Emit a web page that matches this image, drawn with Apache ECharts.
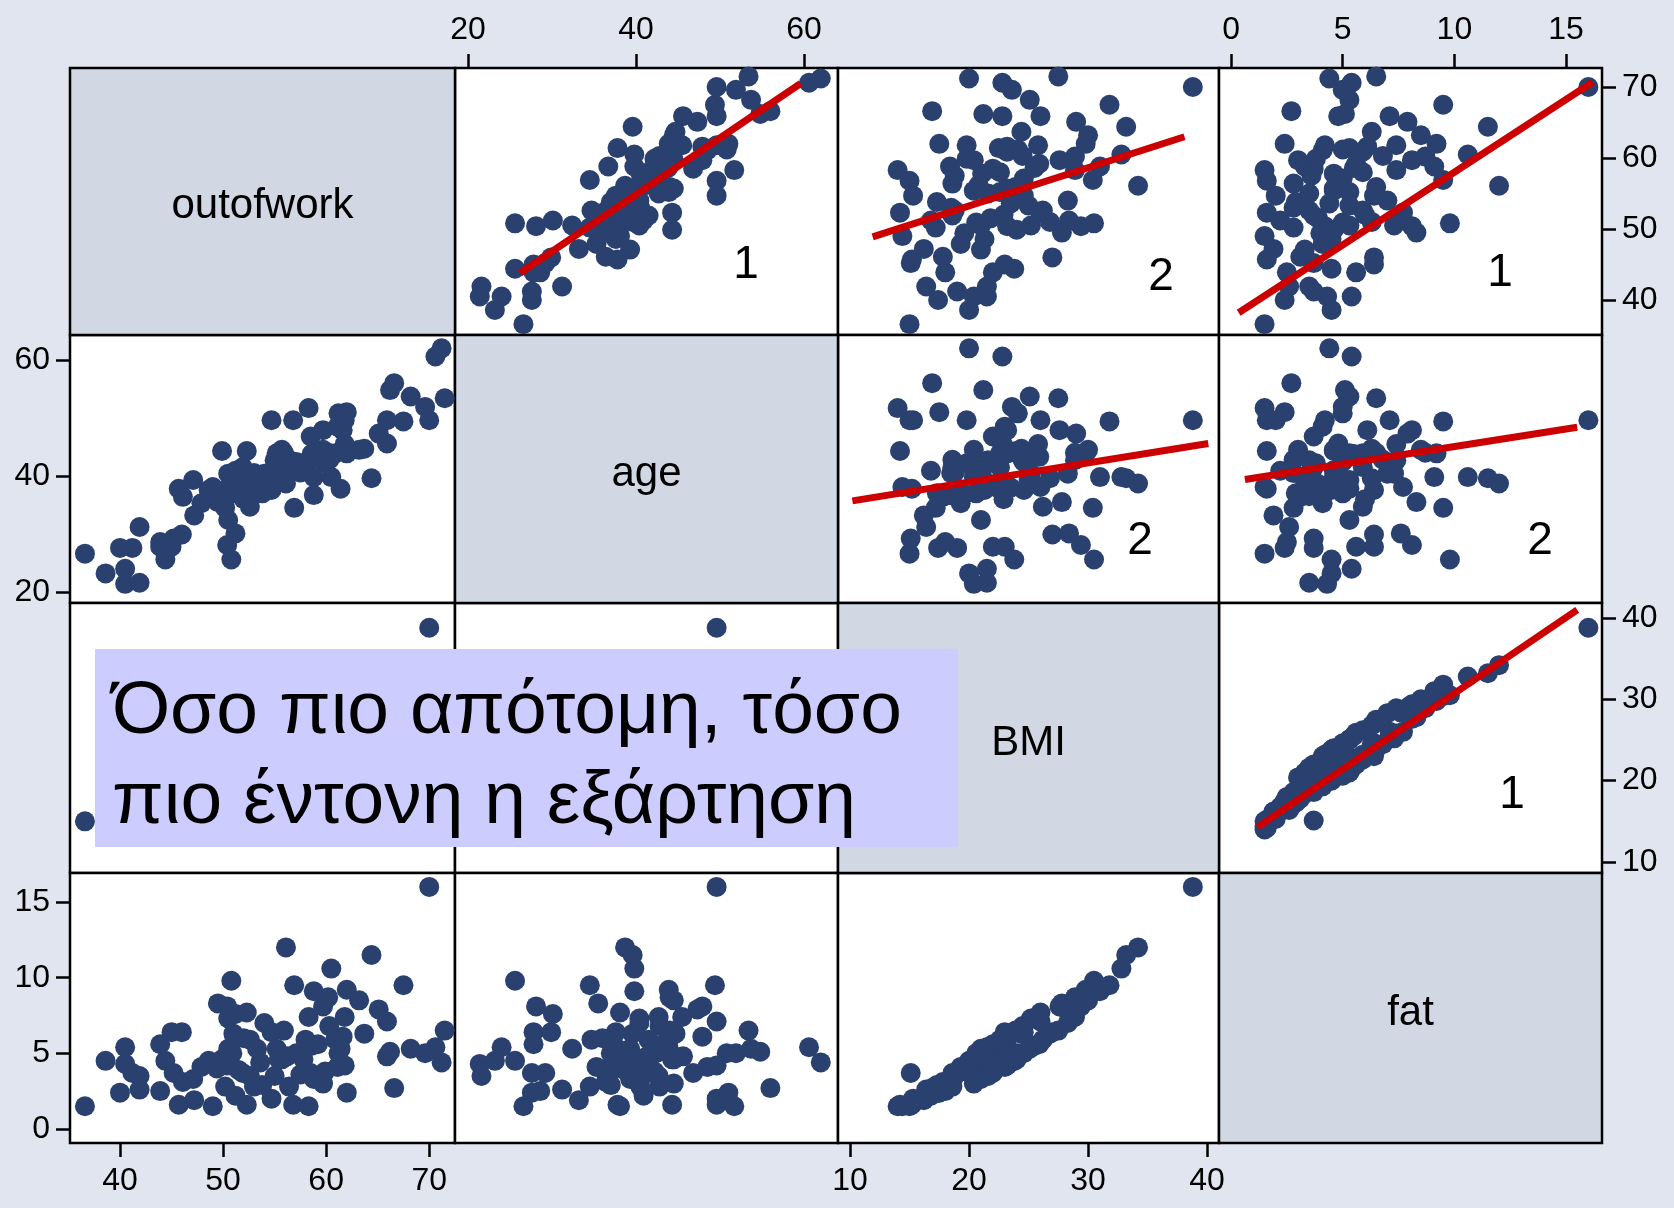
<!DOCTYPE html>
<html>
<head>
<meta charset="utf-8">
<script src="https://cdn.jsdelivr.net/npm/echarts@6/dist/echarts.min.js"></script>
<style>
  html, body { margin: 0; padding: 0; background: #e0e5ef; }
  #main { width: 1674px; height: 1208px; }
</style>
</head>
<body>
<div id="main"></div>
<script>
// one entry per person, same order in every list
var outofwork = [36.6, 38.6, 40.0, 40.5, 40.5, 41.2, 41.9, 41.9, 43.9, 43.9, 44.4, 45.0, 45.2, 45.7, 46.0, 46.1,
  47.1, 47.2, 47.9, 48.6, 49.0, 49.5, 49.9, 50.2, 50.4, 50.4, 50.5, 50.5, 50.8, 50.9, 51.0, 51.2, 51.2, 51.9,
  52.3, 52.3, 52.6, 52.6, 53.0, 53.3, 53.8, 54.0, 54.7, 54.7, 55.0, 55.2, 55.4, 55.7, 55.9, 56.1, 56.4, 56.8,
  56.9, 57.1, 57.8, 58.0, 58.3, 58.3, 58.5, 58.8, 58.8, 59.2, 59.7, 59.7, 59.9, 60.2, 60.5, 60.9, 61.1, 61.2,
  61.4, 61.6, 61.8, 61.8, 62.0, 62.0, 63.2, 63.7, 64.4, 65.1, 65.9, 66.2, 66.6, 67.5, 68.2, 69.6, 70.0, 70.6,
  71.2, 71.5, 65.9, 49.4, 51.5, 53.6, 56.2, 57.5, 58.6, 60.3, 52.0];
var age = [26.6, 23.2, 27.6, 24.0, 21.4, 27.6, 21.6, 31.2, 28.6, 27.8, 25.6, 27.8, 29.2, 37.8, 29.9, 36.4,
  39.3, 33.2, 35.3, 37.6, 38.1, 35.5, 44.3, 34.5, 28.1, 37.8, 40.4, 32.4, 25.6, 37.0, 39.6, 30.1, 40.9, 41.5,
  38.1, 44.3, 34.7, 36.5, 40.5, 39.3, 37.0, 40.4, 37.6, 49.6, 42.7, 43.9, 39.8, 44.5, 44.0, 38.7, 42.8, 49.6,
  34.5, 42.4, 41.0, 41.5, 42.7, 51.7, 46.8, 39.8, 36.7, 43.3, 47.9, 44.5, 42.2, 44.0, 39.8, 43.9, 48.5, 50.8,
  37.8, 47.9, 49.6, 45.5, 43.9, 51.0, 44.5, 44.7, 39.6, 47.3, 49.6, 54.8, 56.0, 49.4, 53.7, 51.9, 49.6, 60.6,
  62.0, 53.4, 45.6, 36.8, 38.6, 38.0, 41.3, 40.6, 43.8, 42.8, 36.0];
var fat = [1.5, 4.5, 2.4, 5.4, 4.3, 3.7, 3.5, 2.6, 2.5, 5.6, 4.5, 6.4, 3.7, 1.6, 6.4, 3.1,
  3.3, 1.9, 4.1, 4.5, 1.5, 8.3, 4.6, 2.8, 8.1, 4.2, 7.3, 5.3, 9.8, 5.0, 6.3, 7.6, 2.2, 3.7,
  7.7, 1.6, 5.9, 3.5, 2.8, 5.3, 2.9, 7.0, 6.4, 2.0, 3.5, 5.3, 4.6, 4.6, 6.5, 12.0, 2.8, 1.6,
  9.5, 5.0, 4.6, 5.9, 7.4, 1.5, 3.7, 9.1, 3.3, 5.6, 8.1, 3.0, 3.8, 8.7, 10.6, 5.9, 4.1, 5.0,
  5.3, 6.1, 4.2, 7.4, 9.2, 2.4, 8.5, 6.3, 11.5, 7.9, 7.1, 5.1, 2.7, 9.5, 5.3, 5.0, 16.0, 5.4,
  4.4, 6.5, 4.8, 4.0, 3.9, 4.4, 4.8, 3.6, 5.5, 6.8, 6.0];
var bmi = [15.0, 20.0, 17.4, 21.5, 20.4, 19.0, 21.5, 16.4, 18.0, 22.0, 23.8, 23.0, 15.1, 15.2, 27.0, 17.8,
  21.0, 16.2, 19.3, 21.3, 14.4, 27.8, 24.0, 17.2, 29.4, 23.2, 25.2, 21.0, 30.5, 20.6, 26.8, 28.4, 16.8, 18.6,
  26.0, 14.2, 26.2, 18.8, 18.5, 25.0, 17.3, 28.3, 24.6, 15.3, 21.6, 22.6, 20.4, 23.2, 23.9, 34.2, 18.6, 15.0,
  30.4, 24.6, 21.1, 22.6, 28.9, 14.0, 22.0, 31.0, 18.4, 25.9, 27.6, 20.4, 19.8, 28.9, 32.8, 23.2, 23.0, 24.1,
  22.5, 23.2, 19.8, 25.8, 29.8, 17.5, 30.0, 24.4, 33.2, 29.0, 26.0, 21.2, 16.9, 31.8, 25.1, 23.6, 38.8, 22.8,
  20.0, 27.5, 22.8, 19.6, 21.8, 23.5, 20.8, 18.8, 25.5, 24.5, 22.9];

var varNames = ['outofwork', 'age', 'BMI', 'fat'];
var ticksOutofwork = [40, 50, 60, 70];
var ticksAge = [20, 40, 60];
var ticksBmi = [10, 20, 30, 40];
var ticksFat = [0, 5, 10, 15];

// fitted lines drawn in the upper cells: end points as [x, y] in data units
var fitOutofworkAge = [[26.2, 43.8], [59.6, 70.5]];
var fitOutofworkBmi = [[11.9, 48.9], [38.1, 63.0]];
var fitOutofworkFat = [[0.34, 38.2], [16.2, 70.7]];
var fitAgeBmi = [[10.2, 35.7], [40.1, 45.6]];
var fitAgeFat = [[0.62, 39.4], [15.5, 48.4]];
var fitBmiFat = [[1.19, 14.3], [15.5, 41.0]];
var slopeRanks = ['1', '2', '1', '2', '2', '1'];

var values = [outofwork, age, bmi, fat];
var ticks = [ticksOutofwork, ticksAge, ticksBmi, ticksFat];
var colX = [70, 455, 838, 1219, 1602];
var rowY = [68, 335, 603, 873, 1143];
var xRange = [[35.15, 72.5], [18.45, 64.05], [8.99, 41.0], [-0.54, 16.61]];
var yRange = [[35.07, 72.68], [18.1, 64.3], [8.65, 41.84], [-0.93, 16.92]];
var FONT = '"Liberation Sans", Arial, Helvetica, sans-serif';
var NAVY = '#2a4170';

var grids = [], xAxes = [], yAxes = [], series = [], graphics = [];
var cellIndex = {};
var idx = 0;
for (var r = 0; r < 4; r++) {
  for (var c = 0; c < 4; c++) {
    var cellLeft = colX[c], cellTop = rowY[r];
    var cellW = colX[c + 1] - colX[c], cellH = rowY[r + 1] - rowY[r];
    if (r === c) {
      graphics.push({
        type: 'rect', z: 1,
        shape: { x: cellLeft, y: cellTop, width: cellW, height: cellH },
        style: { fill: '#d1d8e3', stroke: '#000', lineWidth: 2.5 }
      });
      graphics.push({
        type: 'text', z: 2, x: cellLeft + cellW / 2, y: cellTop + cellH / 2 + 5,
        style: { text: varNames[r], fontSize: 42, fontFamily: FONT, fill: '#000',
          textAlign: 'center', textVerticalAlign: 'middle' }
      });
      continue;
    }
    cellIndex[r + '_' + c] = idx;
    grids.push({
      left: cellLeft, top: cellTop, width: cellW, height: cellH, show: true,
      backgroundColor: '#fff', borderColor: '#000', borderWidth: 2.5, containLabel: false
    });
    var showX = (r === 0 && (c === 1 || c === 3)) || (r === 3 && (c === 0 || c === 2));
    var showY = (c === 0 && (r === 1 || r === 3)) || (c === 3 && (r === 0 || r === 2));
    xAxes.push({
      gridIndex: idx, type: 'value', min: xRange[c][0], max: xRange[c][1],
      position: r === 0 ? 'top' : 'bottom',
      axisLine: { show: false, onZero: false }, splitLine: { show: false },
      axisTick: { show: showX, length: 14, customValues: ticks[c].slice(),
        lineStyle: { color: '#000', width: 2.5 } },
      axisLabel: { show: showX, customValues: ticks[c].slice(), margin: 22, fontSize: 32,
        fontFamily: FONT, color: '#000' }
    });
    yAxes.push({
      gridIndex: idx, type: 'value', min: yRange[r][0], max: yRange[r][1],
      position: c === 3 ? 'right' : 'left',
      axisLine: { show: false, onZero: false }, splitLine: { show: false },
      axisTick: { show: showY, length: 14, customValues: ticks[r].slice(),
        lineStyle: { color: '#000', width: 2.5 } },
      axisLabel: { show: showY, customValues: ticks[r].slice(), margin: 20, fontSize: 32,
        fontFamily: FONT, color: '#000' }
    });
    var pts = [];
    for (var k = 0; k < values[c].length; k++) {
      pts.push([values[c][k], values[r][k]]);
    }
    series.push({
      type: 'scatter', xAxisIndex: idx, yAxisIndex: idx,
      symbol: 'circle', symbolSize: 20, silent: true, z: 3,
      itemStyle: { color: NAVY, opacity: 1 },
      data: pts
    });
    idx++;
  }
}

var fits = [
  { cell: '0_1', line: fitOutofworkAge, mark: [746, 262] },
  { cell: '0_2', line: fitOutofworkBmi, mark: [1161, 274] },
  { cell: '0_3', line: fitOutofworkFat, mark: [1500, 270] },
  { cell: '1_2', line: fitAgeBmi, mark: [1140, 538] },
  { cell: '1_3', line: fitAgeFat, mark: [1540, 538] },
  { cell: '2_3', line: fitBmiFat, mark: [1512, 792] }
];
fits.forEach(function (f, i) {
  var gi = cellIndex[f.cell];
  series.push({
    type: 'line', xAxisIndex: gi, yAxisIndex: gi,
    data: f.line.map(function (p) { return p.slice(); }),
    symbol: 'none', silent: true, z: 5,
    lineStyle: { color: '#cc0000', width: 7, cap: 'butt' }
  });
  graphics.push({
    type: 'text', z: 100, x: f.mark[0], y: f.mark[1] + 3,
    style: { text: slopeRanks[i], fontSize: 46, fontFamily: FONT, fill: '#000',
      textAlign: 'center', textVerticalAlign: 'middle' }
  });
});

// the note box over the lower-left cells
graphics.push({
  type: 'rect', z: 100,
  shape: { x: 95, y: 649, width: 863, height: 198 },
  style: { fill: '#ccccff' }
});
graphics.push({
  type: 'text', z: 101, x: 112, y: 712,
  style: { text: 'Όσο πιο απότομη, τόσο', fontSize: 75, fontFamily: FONT, fill: '#000',
    textAlign: 'left', textVerticalAlign: 'middle' }
});
graphics.push({
  type: 'text', z: 101, x: 112, y: 802,
  style: { text: 'πιο έντονη η εξάρτηση', fontSize: 75, fontFamily: FONT, fill: '#000',
    textAlign: 'left', textVerticalAlign: 'middle' }
});

var myChart = echarts.init(document.getElementById('main'));
var option = {
  backgroundColor: '#e0e5ef',
  animation: false,
  grid: grids,
  xAxis: xAxes,
  yAxis: yAxes,
  series: series,
  graphic: { elements: graphics }
};
myChart.setOption(option);
</script>
</body>
</html>
